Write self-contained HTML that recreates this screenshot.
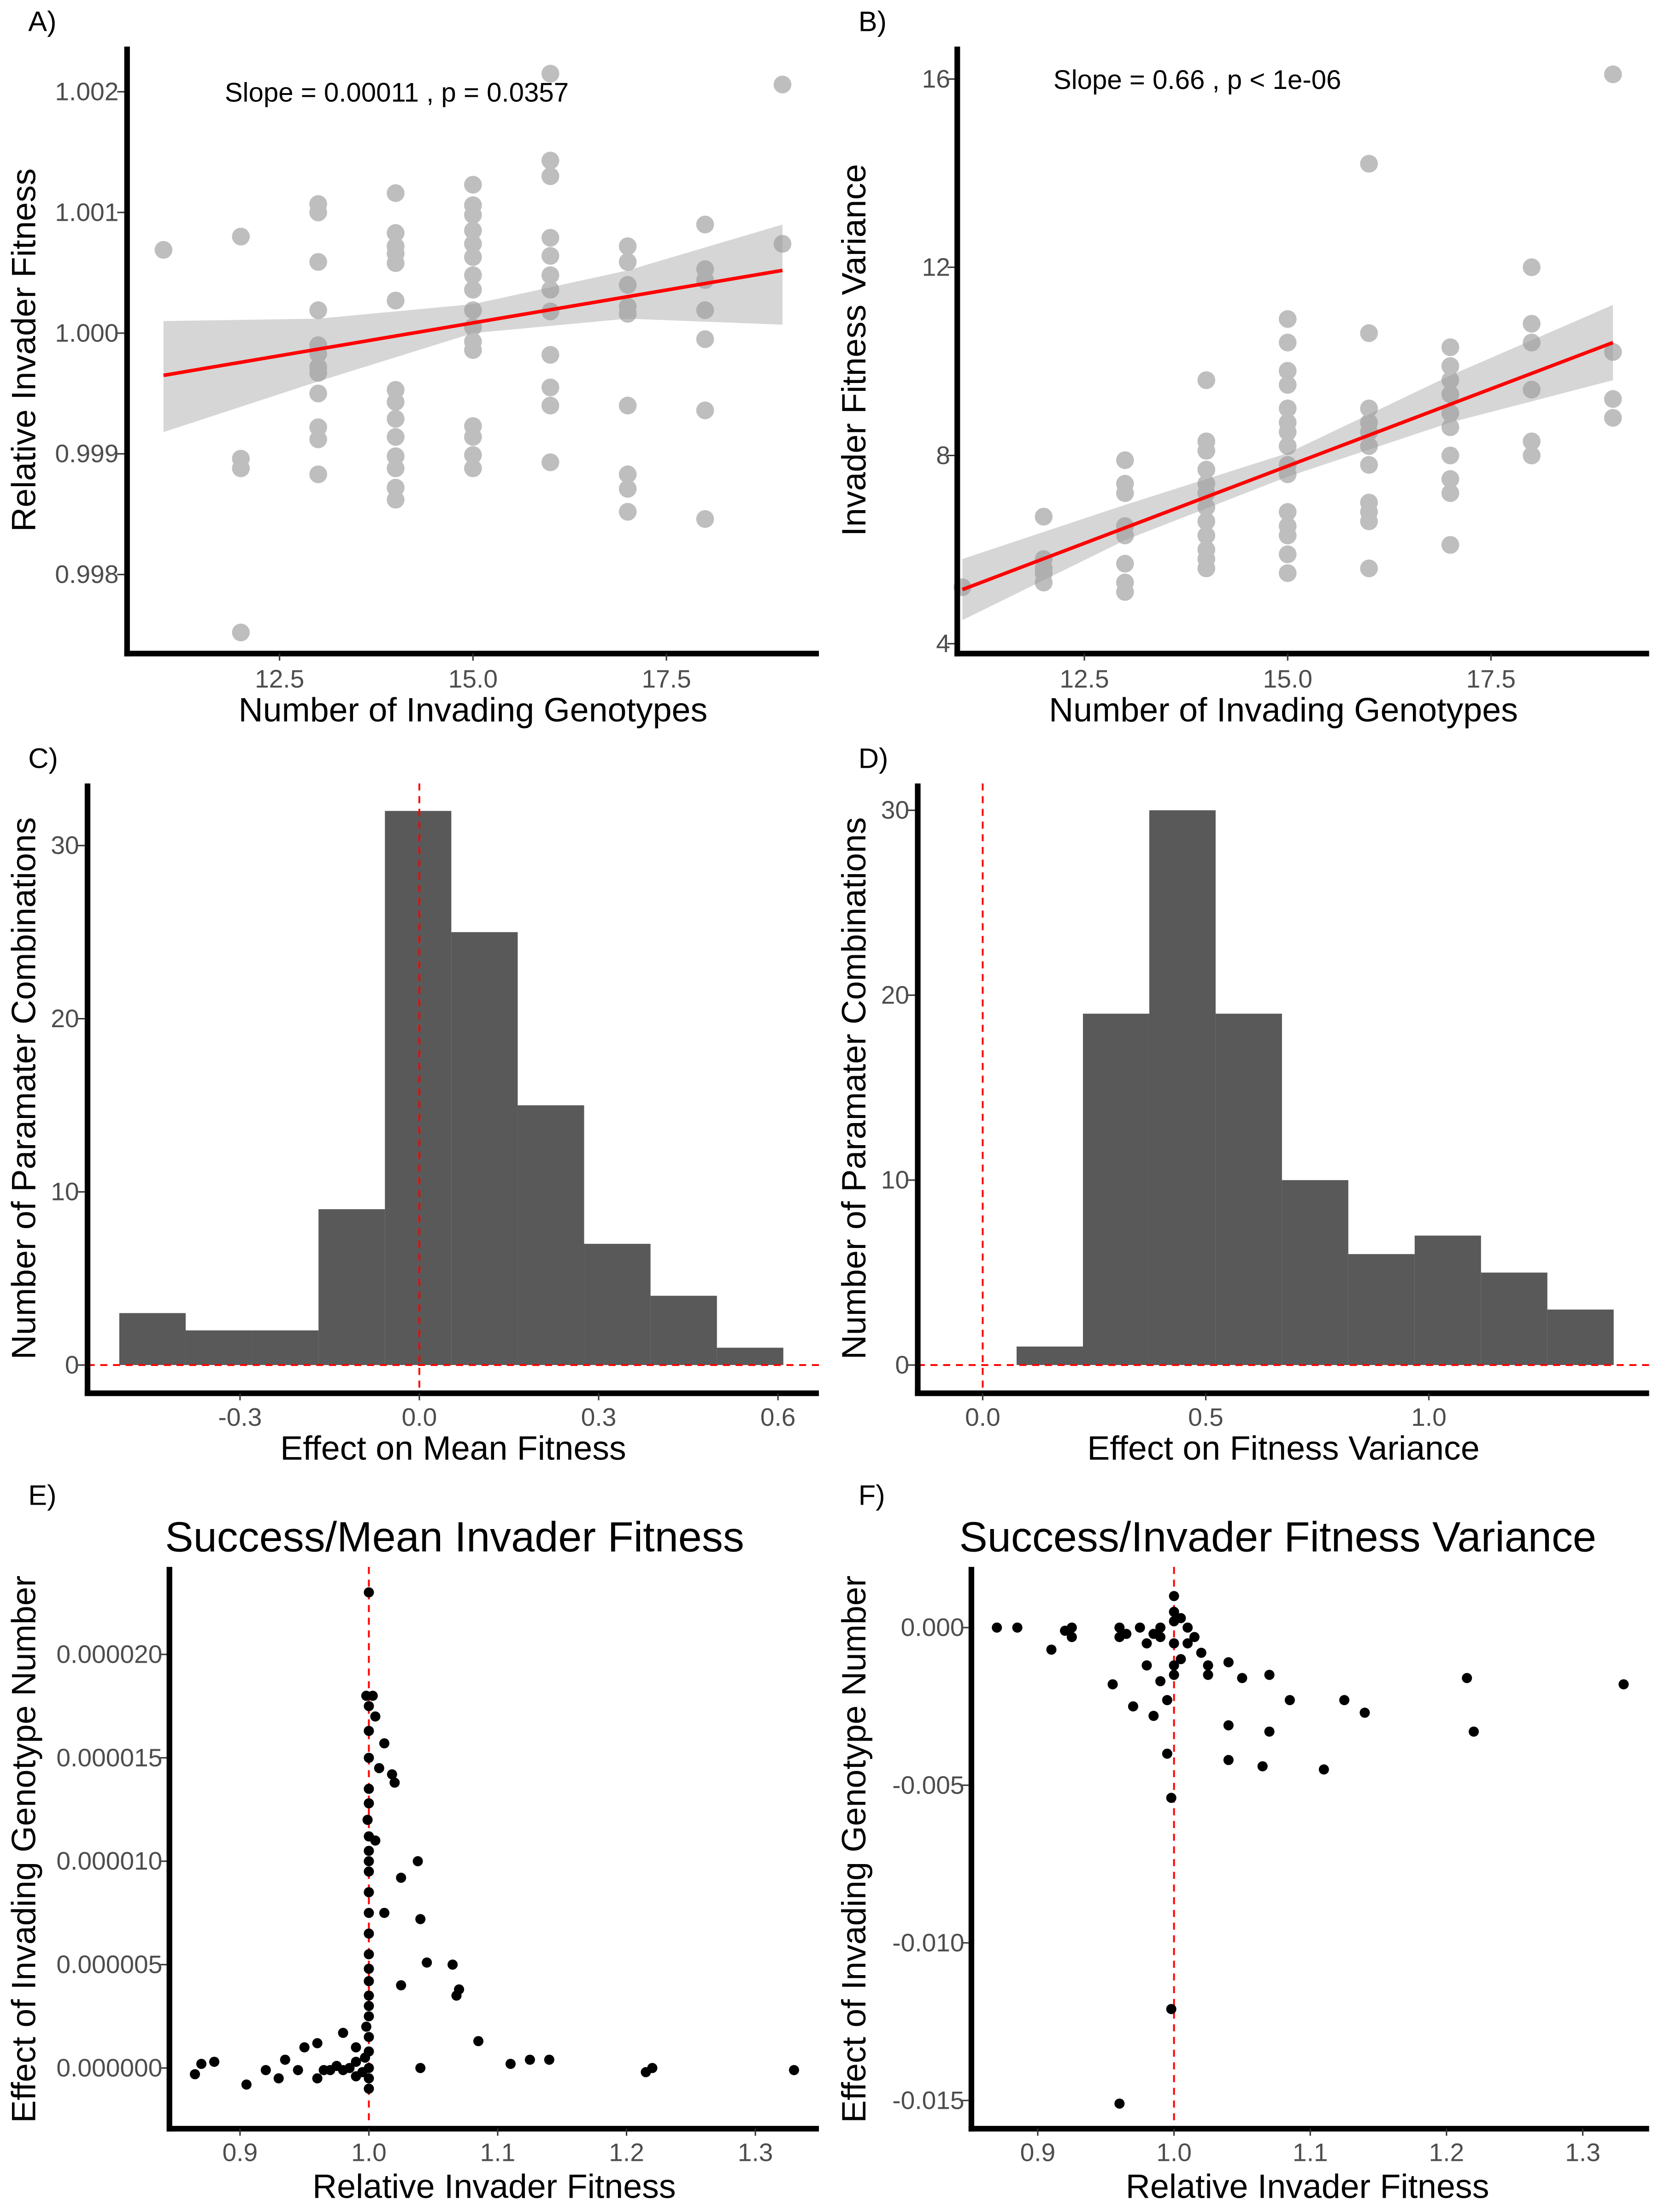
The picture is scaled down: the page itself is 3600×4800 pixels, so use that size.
<!DOCTYPE html>
<html><head><meta charset="utf-8"><style>
html,body{margin:0;padding:0;background:#fff;}
svg{display:block;}
text{font-family:"Liberation Sans",sans-serif;}
</style></head><body>
<svg id="fig" width="3600" height="4800" viewBox="0 0 1175 1567" preserveAspectRatio="none" xmlns="http://www.w3.org/2000/svg"></svg>
<script>
// ---- Panel A data ----
const aX = [11,12,12,12,12,13,13,13,13,13,13,13,13,13,13,13,13,14,14,14,14,14,14,14,14,14,14,14,14,14,14,15,15,15,15,15,15,15,15,15,15,15,15,15,15,15,15,16,16,16,16,16,16,16,16,16,16,16,16,17,17,17,17,17,17,17,17,17,18,18,18,18,18,18,18,19,19];
const aY = [1.00069,1.00080,0.99896,0.99888,0.99752,1.00107,1.00100,1.00059,1.00019,0.99990,0.99983,0.99972,0.99967,0.99950,0.99922,0.99912,0.99883,1.00116,1.00083,1.00072,1.00066,1.00058,1.00027,0.99953,0.99943,0.99929,0.99914,0.99898,0.99888,0.99872,0.99862,1.00123,1.00106,1.00098,1.00085,1.00074,1.00063,1.00048,1.00036,1.00019,1.00005,0.99993,0.99986,0.99923,0.99914,0.99899,0.99888,1.00215,1.00143,1.00130,1.00079,1.00064,1.00048,1.00036,1.00018,0.99982,0.99955,0.99940,0.99893,1.00072,1.00059,1.00040,1.00022,1.00016,0.99940,0.99883,0.99871,0.99852,1.00090,1.00053,1.00044,1.00019,0.99995,0.99936,0.99846,1.00206,1.00074];
const aFitX = [11,19];
const aFitY = [0.99965,1.00052];
const aBandX = [11,13,15,17,19];
const aBandLo = [0.99918,0.99960,1.00000,1.00012,1.00007];
const aBandHi = [1.00010,1.00012,1.00024,1.00052,1.00090];
const aXTicks = [12.5,15.0,17.5];
const aYTicks = [0.998,0.999,1.000,1.001,1.002];
// ---- Panel B data ----
const bX = [11,12,12,12,12,12,13,13,13,13,13,13,13,13,14,14,14,14,14,14,14,14,14,14,14,14,15,15,15,15,15,15,15,15,15,15,15,15,15,15,15,16,16,16,16,16,16,16,16,16,16,16,17,17,17,17,17,17,17,17,17,17,18,18,18,18,18,18,19,19,19,19];
const bY = [5.2,6.7,5.8,5.6,5.5,5.3,7.9,7.4,7.2,6.5,6.3,5.7,5.3,5.1,9.6,8.3,8.1,7.7,7.4,7.2,6.9,6.6,6.3,6.0,5.8,5.6,10.9,10.4,9.8,9.5,9.0,8.7,8.5,8.2,7.8,7.6,6.8,6.5,6.3,5.9,5.5,14.2,10.6,9.0,8.7,8.5,8.2,7.8,7.0,6.8,6.6,5.6,10.3,9.9,9.6,9.3,8.9,8.6,8.0,7.5,7.2,6.1,12.0,10.8,10.4,9.4,8.3,8.0,16.1,10.2,9.2,8.8];
const bFitX = [11,19];
const bFitY = [5.15,10.4];
const bBandX = [11,13,15,17,19];
const bBandLo = [4.5,6.2,7.55,8.7,9.6];
const bBandHi = [5.8,6.95,8.05,9.7,11.2];
const bXTicks = [12.5,15.0,17.5];
const bYTicks = [4,8,12,16];
// ---- Panel C data ----
const cStart = -0.502, cWidth = 0.1111;
const cCounts = [3,2,2,9,32,25,15,7,4,1];
const cXTicks = [-0.3,0.0,0.3,0.6];
const cXLabels = ["-0.3","0.0","0.3","0.6"];
const cYTicks = [0,10,20,30];
// ---- Panel D data ----
const dStart = 0.076, dWidth = 0.1487;
const dCounts = [1,19,30,19,10,6,7,5,3];
const dXTicks = [0.0,0.5,1.0];
const dXLabels = ["0.0","0.5","1.0"];
const dYTicks = [0,10,20,30];
// ---- Panel E data ----
const eX = [1.0,0.998,1.003,1.0,1.005,1.0,1.012,1.0,1.008,1.018,1.02,1.0,1.0,0.999,1.0,1.005,1.0,1.0,1.038,1.0,1.025,1.0,1.0,1.012,1.04,1.0,1.0,1.045,1.065,1.0,1.0,1.025,1.07,1.068,1.0,1.0,1.0,0.998,1.085,1.0,0.98,0.96,0.95,0.99,1.0,0.997,0.99,0.87,0.88,0.93,0.935,0.945,0.97,0.975,0.98,0.985,0.99,0.995,1.0,1.0,1.0,0.92,0.865,0.96,0.965,1.04,1.11,1.125,1.14,1.215,1.22,1.33,0.905];
const eY = [23,18,18,17.5,17,16.3,15.7,15,14.5,14.2,13.8,13.5,12.8,12,11.2,11,10.5,10,10,9.5,9.2,8.5,7.5,7.5,7.2,6.5,5.5,5.1,5,4.8,4.2,4,3.8,3.5,3.5,3,2.5,2,1.3,1.5,1.7,1.2,1,1,0.8,0.5,0.3,0.2,0.3,-0.5,0.4,-0.1,-0.1,0.1,-0.1,0,-0.4,-0.2,0,-0.5,-1,-0.1,-0.3,-0.5,-0.1,0,0.2,0.4,0.4,-0.2,0,-0.1,-0.8].map(v=>v*1e-6);
const eXTicks = [0.9,1.0,1.1,1.2,1.3];
const eYTicks = [0,0.000005,0.00001,0.000015,0.00002];
const eYLabels = ["0.000000","0.000005","0.000010","0.000015","0.000020"];
// ---- Panel F data ----
const fX = [0.87,0.885,0.91,0.92,0.925,0.925,0.955,0.96,0.96,0.965,0.97,0.975,0.98,0.98,0.985,0.99,0.99,0.99,0.995,0.995,0.998,0.998,0.96,1.0,1.0,1.0,1.0,1.0,1.0,1.005,1.01,1.01,1.015,1.02,1.025,1.025,1.04,1.04,1.04,1.05,1.065,1.07,1.07,1.085,1.11,1.125,1.14,1.215,1.22,1.33,0.985,1.005];
const fY = [0,0,-0.0007,-0.0001,0,-0.0003,-0.0018,0,-0.0003,-0.0002,-0.0025,0,-0.0005,-0.0012,-0.0028,0,-0.0017,-0.0003,-0.0023,-0.004,-0.0054,-0.0121,-0.0151,0.001,0.0005,0.0002,-0.0005,-0.0012,-0.0015,-0.001,-0.0005,0,-0.0003,-0.0008,-0.0015,-0.0012,-0.0011,-0.0031,-0.0042,-0.0016,-0.0044,-0.0015,-0.0033,-0.0023,-0.0045,-0.0023,-0.0027,-0.0016,-0.0033,-0.0018,-0.0002,0.0003];
const fXTicks = [0.9,1.0,1.1,1.2,1.3];
const fYTicks = [0,-0.005,-0.01,-0.015];
const fYLabels = ["0.000","-0.005","-0.010","-0.015"];

const NS="http://www.w3.org/2000/svg";
const svg=document.getElementById('fig');
function mk(tag,attrs,parent){const e=document.createElementNS(NS,tag);for(const k in attrs)e.setAttribute(k,attrs[k]);(parent||svg).appendChild(e);return e;}
function lin(d0,d1,p0,p1){return v=>p0+(v-d0)*(p1-p0)/(d1-d0);}
function txt(s,x,y,size,fill,anchor,name,rot){const t=mk('text',{x:x,y:y,'font-size':size,fill:fill,'text-anchor':anchor||'middle'});if(rot)t.setAttribute('transform','rotate(-90 '+x+' '+y+')');t.textContent=s;


return t;}
function axes(g,x0,x1,y0,y1){
 const a=mk('line',{x1:x0,y1:y0,x2:x0,y2:y1+2,stroke:'#000','stroke-width':4},g);
 
 
 const b=mk('line',{x1:x0-2,y1:y1,x2:x1,y2:y1,stroke:'#000','stroke-width':4},g);
 
 
}
function xticks(ticks,labels,sx,y,axisY){ticks.forEach((t,i)=>{
 const m=mk('line',{x1:sx(t),y1:axisY,x2:sx(t),y2:axisY+5,stroke:'#333','stroke-width':1});
 
 
 txt(labels[i],sx(t),y,18,'#4d4d4d','middle','x-tick-label');});}
function yticks(ticks,labels,sy,x,axisX){ticks.forEach((t,i)=>{
 const m=mk('line',{x1:axisX-5,y1:sy(t),x2:axisX,y2:sy(t),stroke:'#333','stroke-width':1});
 
 
 txt(labels[i],x,sy(t)+6,18,'#4d4d4d','end','y-tick-label');});}

function scatterPanel(id,X,Y,fitX,fitY,bX_,bLo,bHi,sx,sy){
 const g=mk('g',{});
 
 
 let d='M'+bX_.map((v,i)=>sx(v)+','+sy(bHi[i])).join(' L')+' L'+bX_.slice().reverse().map((v,i)=>sx(v)+','+sy(bLo[bLo.length-1-i])).join(' L')+'Z';
 X.forEach((v,i)=>{const c=mk('circle',{cx:sx(v),cy:sy(Y[i]),r:6.3,fill:'#bebebe'},g);
  
  });
 const band=mk('path',{d:d,fill:'#999','fill-opacity':0.4},g);
 
 
 const l=mk('line',{x1:sx(fitX[0]),y1:sy(fitY[0]),x2:sx(fitX[1]),y2:sy(fitY[1]),stroke:'#ff0000','stroke-width':2.5},g);
 
 
 return g;
}

// Panel A
{const sx=lin(12.5,17.5,198,472), sy=lin(1.000,1.002,236,65);
 const g=scatterPanel('panel-a',aX,aY,aFitX,aFitY,aBandX,aBandLo,aBandHi,sx,sy);
 axes(g,90,580,33,463);
 xticks(aXTicks,aXTicks.map(v=>v.toFixed(1)),sx,487,463);
 yticks(aYTicks,aYTicks.map(v=>v.toFixed(3)),sy,84,88);
 txt('Number of Invading Genotypes',335,511,24,'#000','middle','x-axis-title');
 txt('Relative Invader Fitness',25,248,24,'#000','middle','y-axis-title',true);
 txt('Slope = 0.00011 ,  p = 0.0357',281,72,19,'#000','middle','stats-annotation');
 txt('A)',20,22,20,'#000','start','panel-label');}
// Panel B
{const sx=lin(12.5,17.5,768,1056), sy=lin(4,16,456,56);
 const g=scatterPanel('panel-b',bX,bY,bFitX,bFitY,bBandX,bBandLo,bBandHi,sx,sy);
 axes(g,678,1168,33,463);
 xticks(bXTicks,bXTicks.map(v=>v.toFixed(1)),sx,487,463);
 yticks(bYTicks,bYTicks.map(String),sy,673,676);
 txt('Number of Invading Genotypes',909,511,24,'#000','middle','x-axis-title');
 txt('Invader Fitness Variance',613,248,24,'#000','middle','y-axis-title',true);
 txt('Slope = 0.66 ,  p < 1e-06',848,63,19,'#000','middle','stats-annotation');
 txt('B)',608,22,20,'#000','start','panel-label');}

function histPanel(id,start,width,counts,sx,sy,x0,x1,y0,y1){
 const g=mk('g',{});
 
 
 counts.forEach((c,i)=>{const a=sx(start+i*width),b=sx(start+(i+1)*width);
  const r=mk('rect',{x:a,y:sy(c),width:b-a,height:sy(0)-sy(c),fill:'#595959'},g);
  
  });
 const v=mk('line',{x1:sx(0),y1:y0,x2:sx(0),y2:y1,stroke:'#ff0000','stroke-width':1.3,'stroke-dasharray':'5,4'},g);
 
 
 const h=mk('line',{x1:x0,y1:sy(0),x2:x1,y2:sy(0),stroke:'#ff0000','stroke-width':1.3,'stroke-dasharray':'5,4'},g);
 
 
 axes(g,x0,x1,y0,y1);
 return g;
}
// Panel C
{const sx=lin(0,0.3,297,424), sy=lin(0,30,967,599);
 histPanel('panel-c',cStart,cWidth,cCounts,sx,sy,62,580,555,987);
 xticks(cXTicks,cXLabels,sx,1010,987);
 yticks(cYTicks,cYTicks.map(String),sy,56,60);
 txt('Effect on Mean Fitness',321,1034,24,'#000','middle','x-axis-title');
 txt('Number of Paramater Combinations',25,771,24,'#000','middle','y-axis-title',true);
 txt('C)',20,544,20,'#000','start','panel-label');}
// Panel D
{const sx=lin(0,1.0,696,1012), sy=lin(0,30,967,574);
 histPanel('panel-d',dStart,dWidth,dCounts,sx,sy,650,1168,555,987);
 xticks(dXTicks,dXLabels,sx,1010,987);
 yticks(dYTicks,dYTicks.map(String),sy,644,648);
 txt('Effect on Fitness Variance',909,1034,24,'#000','middle','x-axis-title');
 txt('Number of Paramater Combinations',613,771,24,'#000','middle','y-axis-title',true);
 txt('D)',608,544,20,'#000','start','panel-label');}

function dotPanel(id,X,Y,sx,sy,x0,x1,y0,y1){
 const g=mk('g',{});
 
 
 const v=mk('line',{x1:sx(1.0),y1:y0,x2:sx(1.0),y2:y1,stroke:'#ff0000','stroke-width':1.3,'stroke-dasharray':'5,4'},g);
 
 
 X.forEach((x,i)=>{const c=mk('circle',{cx:sx(x),cy:sy(Y[i]),r:3.6,fill:'#000'},g);
  
  });
 axes(g,x0,x1,y0,y1);
}
// Panel E
{const sx=lin(0.9,1.3,170,535), sy=lin(0,0.00002,1465,1172);
 dotPanel('panel-e',eX,eY,sx,sy,120,580,1110,1508);
 xticks(eXTicks,eXTicks.map(v=>v.toFixed(1)),sx,1531,1508);
 yticks(eYTicks,eYLabels,sy,115,118);
 txt('Relative Invader Fitness',350,1557,24,'#000','middle','x-axis-title');
 txt('Effect of Invading Genotype Number',25,1310,24,'#000','middle','y-axis-title',true);
 txt('Success/Mean Invader Fitness',322,1099,30,'#000','middle','chart-title');
 txt('E)',20,1066,20,'#000','start','panel-label');}
// Panel F
{const sx=lin(0.9,1.3,735,1121), sy=lin(0,-0.015,1153,1488);
 dotPanel('panel-f',fX,fY,sx,sy,688,1168,1110,1508);
 xticks(fXTicks,fXTicks.map(v=>v.toFixed(1)),sx,1531,1508);
 yticks(fYTicks,fYLabels,sy,683,686);
 txt('Relative Invader Fitness',926,1557,24,'#000','middle','x-axis-title');
 txt('Effect of Invading Genotype Number',613,1310,24,'#000','middle','y-axis-title',true);
 txt('Success/Invader Fitness Variance',905,1099,30,'#000','middle','chart-title');
 txt('F)',608,1066,20,'#000','start','panel-label');}
</script>
</body></html>
